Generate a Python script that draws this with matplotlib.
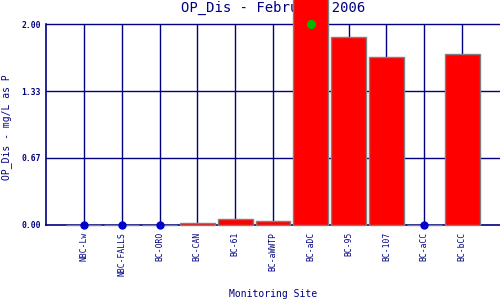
import matplotlib
matplotlib.use("Agg")
import matplotlib.pyplot as plt
import numpy as np

sites = ["NBC-Lw", "NBC-FALLS", "BC-ORO", "BC-CAN", "BC-61", "BC-aWWTP",
         "BC-aDC", "BC-95", "BC-107", "BC-aCC", "BC-bCC"]
values = [np.nan, np.nan, np.nan, 0.017, 0.057, 0.037, 2.60, 1.87, 1.67, np.nan, 1.70]
nd_sites = ["NBC-Lw", "NBC-FALLS", "BC-ORO", "BC-aCC"]
std_site = "BC-aDC"
std_value = 2.0
yticks = [0.0, 0.67, 1.33, 2.00]

navy = "#000080"
mono = "DejaVu Sans Mono"
fig = plt.figure(figsize=(5, 3), dpi=100)
ax = fig.add_axes([46/500, 1-225/300, 454/500, 201/300])
ax.set_zorder(2)
ax.patch.set_alpha(0)
x = np.arange(len(sites))
ax.set_xlim(-1, len(sites))
ax.set_ylim(0, 2.0)
for s in ["top", "right"]:
    ax.spines[s].set_visible(False)
for s in ["left", "bottom"]:
    ax.spines[s].set_color(navy)
    ax.spines[s].set_linewidth(1.2)
for xi in x:
    ax.axvline(xi, color=navy, lw=1, zorder=1)
for yv in yticks[1:]:
    ax.axhline(yv, color=navy, lw=1, zorder=1, clip_on=False)
vals = np.nan_to_num(np.array(values, dtype=float))
bars = ax.bar(x, vals, width=0.92, color="#ff0000", edgecolor="#808080", lw=1, zorder=3)
for b in bars:
    b.set_clip_on(False)
nd_x = [sites.index(s) for s in nd_sites]
ax.plot(nd_x, [0]*len(nd_x), "o", color="#0000cc", ms=5, zorder=5, clip_on=False)
ax.plot([sites.index(std_site)], [std_value], "o", color="#00bb00", ms=5.5, zorder=6, clip_on=False)

ax.set_yticks(yticks)
ax.set_yticklabels([f"{v:.2f}" for v in yticks], fontsize=5.8, color=navy,
                   family=mono, fontweight="bold")
ax.set_xticks(x)
ax.set_xticklabels(sites, rotation=90, fontsize=5.8, color=navy, family=mono, va="top")
ax.tick_params(axis="x", length=0, pad=5)
ax.tick_params(axis="y", length=0, pad=3.6)
fig.text(7/500, 1-127.5/300, "OP_Dis - mg/L as P", rotation=90, ha="center", va="center",
         fontsize=7, color=navy, family=mono)
fig.text(273/500, 1-294/300, "Monitoring Site", ha="center", va="center",
         fontsize=7, color=navy, family=mono)
fig.text(273/500, 1-8/300, "OP_Dis - February 2006", ha="center", va="center", fontsize=10,
         color=navy, family=mono, zorder=0)
fig.savefig("out.png", dpi=100)
